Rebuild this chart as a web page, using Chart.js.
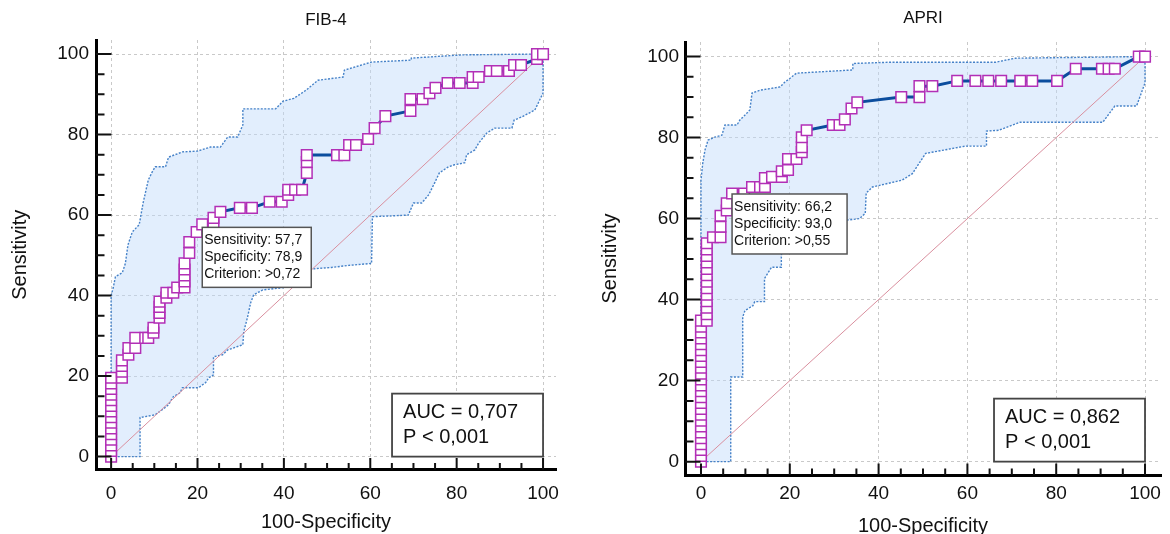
<!DOCTYPE html>
<html><head><meta charset="utf-8">
<script src="https://cdn.jsdelivr.net/npm/chart.js@4.4.1/dist/chart.umd.min.js"></script>
<style>
html,body{margin:0;padding:0;background:#fff;overflow:hidden}
#wrap{position:relative;width:1170px;height:534px;background:#fff}
canvas{position:absolute;top:0}
</style></head>
<body><div id="wrap">
<canvas id="c1" width="585" height="534" style="left:0"></canvas>
<canvas id="c2" width="585" height="534" style="left:585px"></canvas>
</div>
<script>
const FONT = "'Liberation Sans', Arial, Helvetica, sans-serif";

// ---- axes ----
const axisTicks = [0,5,10,15,20,25,30,35,40,45,50,55,60,65,70,75,80,85,90,95,100];
const labeledTicks = [0,20,40,60,80,100];
const xAxisTitle = '100-Specificity';
const yAxisTitle = 'Sensitivity';
const diagonalX = [0,100];
const diagonalY = [0,100];

// ---- FIB-4 ----
const fibTitle = 'FIB-4';
const fibRocX = [0,0,0,0,0,0,0,0,0,0,0,0,0,0,0,
  2.5,2.5,2.5,2.5,4.0,4.0,5.6,5.6,7.9,8.6,9.8,9.8,11.2,11.2,11.2,11.2,12.8,12.8,14.4,15.3,17.0,17.0,17.0,17.0,17.0,
  18.1,18.1,19.8,21.1,23.7,23.7,25.3,29.8,32.6,36.7,39.5,41.0,41.0,42.6,44.2,45.3,45.3,45.3,52.3,54.0,55.1,56.7,
  59.5,61.0,63.5,69.3,69.3,72.1,73.7,75.1,77.9,80.7,83.7,83.7,85.1,87.7,89.3,92.1,93.3,94.9,98.6,98.6,100];
const fibRocY = [0,1.4,2.8,4.2,5.6,7.0,8.4,9.8,11.2,12.6,14.0,15.4,16.8,18.2,19.6,
  19.6,21.1,22.5,23.9,25.3,27.0,27.0,29.5,29.5,29.5,30.8,32.0,34.5,35.7,37.2,38.5,39.5,40.7,40.7,42.0,42.0,43.5,45.0,46.5,48.0,
  50.6,53.3,55.8,57.7,57.7,59.3,60.8,61.8,61.8,63.3,63.3,65.0,66.3,66.3,66.3,70.5,73.2,74.9,74.9,74.9,77.4,77.4,
  78.9,81.6,84.6,85.9,88.8,88.8,90.3,91.6,92.8,92.8,92.8,94.3,94.3,95.8,95.8,95.8,97.3,97.3,98.8,100,100];
const fibUpperX = [0,0,0.5,1.0,2.6,3.3,3.9,4.9,6.5,7.4,8.6,9.5,10.2,12.6,13.3,16.5,20.0,23.0,25.3,27.0,29.3,30.5,30.5,
  38.1,39.8,42.3,45.1,47.9,53.7,54.0,60.2,69.5,69.5,81.2,98.0,100];
const fibUpperY = [0,40,42,44.7,45.7,48,52.6,55.8,57.6,63,68.7,70.7,72,72,74.4,75.7,75.9,76.9,76.9,79.4,79.4,82.4,86.4,
  86.4,88.3,89,91,93.5,94.3,96,98,98.5,99,99.8,100,100];
const fibLowerX = [0,6.7,6.7,10.2,11.9,13.3,14.4,16.0,16.5,20.2,21.9,22.6,23.7,23.7,25.8,27.0,30.5,30.7,31.6,32.3,33.0,
  35.1,40.0,44.0,45.0,51.0,55.0,60.3,60.5,68.8,70.0,71.9,73.5,74.9,76.0,78.1,79.5,81.9,82.3,84.2,85.1,87.0,88.8,92.8,
  93.3,95.1,98.1,99.0,100,100,100];
const fibLowerY = [0,0,9.7,10.4,11.7,12.9,14.9,15.9,17.1,17.1,18.4,19.6,20.3,24.8,25.3,26.5,27.8,31,34.7,38.2,40.2,
  41.4,42,45,46.5,47,47.5,48,59.6,60,63,63,65,68,70.5,72,72.5,73,75,76.2,77.9,80.4,81.6,81.6,
  83.6,84.4,86.1,88.1,90.3,95,100];
const fibCriterionPoint = [21.1, 57.7];
const fibCriterionText = ['Sensitivity: 57,7', 'Specificity: 78,9', 'Criterion: >0,72'];
const fibAucText = ['AUC = 0,707', 'P < 0,001'];

// ---- APRI ----
const apriTitle = 'APRI';
const apriRocX = [0,0,0,0,0,0,0,0,0,0,0,0,0,0,0,0,0,0,0,0,0,0,0,0,0,
  1.3,1.3,1.3,1.3,1.3,1.3,1.3,1.3,1.3,1.3,1.3,1.3,1.3,
  2.7,4.4,4.4,4.4,5.8,5.8,7.0,9.7,11.5,13.3,14.4,14.4,16.0,18.2,18.2,19.6,19.6,21.5,22.7,22.7,22.7,23.8,
  29.7,31.2,32.4,33.9,35.2,45.1,49.2,49.2,52.1,57.7,61.8,64.7,67.6,71.9,74.6,80.2,84.4,90.3,91.8,93.2,98.6,100];
const apriRocY = [0,1.4,2.9,4.3,5.8,7.2,8.7,10.1,11.6,13.0,14.5,15.9,17.4,18.8,20.3,21.7,23.2,24.6,26.1,27.5,29.0,30.4,31.9,33.3,34.8,
  34.8,36.4,38.0,39.6,41.2,42.8,44.4,46.0,47.6,49.2,50.8,52.4,53.9,
  55.4,55.4,58.0,60.7,62.0,63.8,66.2,66.2,67.8,67.8,67.8,70.0,70.3,70.3,71.7,72.0,74.7,74.7,76.4,77.6,80.1,81.8,
  83.1,83.1,84.5,87.2,88.7,90.0,90.0,92.7,92.7,94,94,94,94,94,94,94,97,97,97,97,100,100];
const apriUpperX = [0,0,0.4,0.9,1.6,3.1,4.7,5.4,8.1,8.8,9.5,11.0,11.5,13.3,17.8,18.9,20.0,21.5,34.2,34.2,42.4,66.3,70.8,99.0,100];
const apriUpperY = [0,69.5,73.7,76.9,79.4,80.1,80.6,83.1,83.1,84.4,85.1,86.8,91,91.7,92.5,93.7,94.6,95.9,96.7,98.3,98.6,98.6,99.6,100,100];
const apriLowerX = [0,6.7,6.7,9.4,9.4,9.9,11.7,12.1,14.3,14.3,15.9,18.1,18.1,18.4,19.0,33.5,35.7,37.0,37.2,38.6,45.3,47.6,
  50.6,59.6,64.3,64.3,67.0,71.9,90.5,93.2,98.1,100,100];
const apriLowerY = [0,0,20.9,20.9,35.7,37.3,38.5,39.5,39.5,45.2,48,48,50.5,57,58,59.7,60,61.3,66.3,67.8,69.5,71.1,
  76.1,77.9,77.9,81.6,81.8,83.8,83.8,87.8,87.8,93.5,100];
const apriCriterionPoint = [7.0, 66.2];
const apriCriterionText = ['Sensitivity: 66,2', 'Specificity: 93,0', 'Criterion: >0,55'];
const apriAucText = ['AUC = 0,862', 'P < 0,001'];

// ---- helpers ----
const pts = (xs, ys) => xs.map((x, i) => ({x: x, y: ys[i]}));
const bandShape = (ux, uy, lx, ly) => pts(ux, uy).concat(pts(lx, ly).reverse());

function buildChart(id, d, L) {
  const notes = {
    id: 'rocNotes',
    afterDatasetsDraw(chart) {
      const {ctx, scales: {x, y}} = chart;
      ctx.save();
      const bx = x.getPixelForValue(d.crit[0]) + L.critDX;
      const by = y.getPixelForValue(d.crit[1]) + L.critDY;
      const bw = L.critW, bh = 60;
      ctx.fillStyle = '#fff';
      ctx.fillRect(bx, by, bw, bh);
      ctx.strokeStyle = '#555';
      ctx.lineWidth = 1.5;
      ctx.strokeRect(bx, by, bw, bh);
      ctx.fillStyle = '#111';
      ctx.font = '14px ' + FONT;
      ctx.textAlign = 'left';
      ctx.textBaseline = 'middle';
      d.critText.forEach((t, i) => ctx.fillText(t, bx + 2, by + 13 + i * 17));
      const ax = x.getPixelForValue(100), ay = y.getPixelForValue(0);
      const aw = 151, ah = 63;
      ctx.fillStyle = '#fff';
      ctx.fillRect(ax - aw, ay - ah, aw, ah);
      ctx.strokeStyle = '#444';
      ctx.lineWidth = 1.8;
      ctx.strokeRect(ax - aw, ay - ah, aw, ah);
      ctx.fillStyle = '#111';
      ctx.font = '20px ' + FONT;
      d.aucText.forEach((t, i) => ctx.fillText(t, ax - aw + 11, ay - ah + 19 + i * 25));
      ctx.restore();
    },
    afterDraw(chart) {
      const {ctx, scales: {x, y}, chartArea: a} = chart;
      ctx.save();
      ctx.strokeStyle = '#111';
      ctx.lineWidth = 2;
      ctx.beginPath();
      axisTicks.forEach(v => {
        const px = x.getPixelForValue(v);
        const len = labeledTicks.includes(v) ? 10 : 5;
        ctx.moveTo(px, a.bottom);
        ctx.lineTo(px, a.bottom - 1.5 - len);
        const py = y.getPixelForValue(v);
        const ly = labeledTicks.includes(v) ? 14 : 7;
        ctx.moveTo(a.left, py);
        ctx.lineTo(a.left + 1.5 + ly, py);
      });
      ctx.stroke();
      ctx.restore();
    }
  };

  const gridColor = c => (c.tick && labeledTicks.includes(c.tick.value)) ? '#c9c9c9' : 'rgba(0,0,0,0)';
  const tickLabel = v => labeledTicks.includes(v) ? String(v) : '';

  return new Chart(document.getElementById(id), {
    type: 'line',
    data: {
      datasets: [
        {label: 'ROC', data: pts(d.rocX, d.rocY), borderColor: '#0b4d9e', borderWidth: 3,
         pointStyle: 'rect', pointRadius: 7.5, pointBackgroundColor: '#fff', pointBorderColor: '#b22fb6',
         pointBorderWidth: 1.5, fill: false, tension: 0, order: 0},
        {label: 'diag', data: pts(diagonalX, diagonalY), borderColor: '#d98f9e', borderWidth: 1,
         pointRadius: 0, fill: false, tension: 0, order: 1},
        {label: 'CI', data: bandShape(d.upX, d.upY, d.loX, d.loY), borderColor: '#4682c8', borderWidth: 1.4,
         borderDash: [2, 1.5], backgroundColor: 'rgba(190,218,250,0.45)', fill: 'shape',
         pointRadius: 0, tension: 0, order: 2}
      ]
    },
    options: {
      responsive: false,
      animation: false,
      events: [],
      layout: {padding: {left: 0, right: L.padRight, top: 0, bottom: 0}},
      plugins: {
        legend: {display: false},
        tooltip: {enabled: false},
        title: {display: true, text: d.title, fullSize: false, color: '#111',
                font: {family: FONT, size: 17, weight: 'normal'},
                padding: {top: L.titleTop, bottom: L.titleBot}}
      },
      scales: {
        x: {
          type: 'linear', min: L.xMin, max: L.xMax,
          afterBuildTicks: s => { s.ticks = axisTicks.map(v => ({value: v})); },
          afterFit: s => { s.height = L.xH; },
          ticks: {autoSkip: false, maxRotation: 0, padding: L.xPad, color: '#111',
                  font: {family: FONT, size: 19}, callback: tickLabel},
          grid: {drawTicks: false, color: gridColor, lineWidth: 1},
          border: {display: true, color: '#000', width: 3, dash: [3, 3]},
          title: {display: true, text: xAxisTitle, color: '#111', font: {family: FONT, size: 20},
                  padding: {top: 0, bottom: L.xTitlePB}}
        },
        y: {
          type: 'linear', min: L.yMin, max: L.yMax,
          afterBuildTicks: s => { s.ticks = axisTicks.map(v => ({value: v})); },
          afterFit: s => { s.width = L.yW; },
          ticks: {autoSkip: false, padding: L.yPad, color: '#111',
                  font: {family: FONT, size: 19}, callback: tickLabel},
          grid: {drawTicks: false, color: gridColor, lineWidth: 1},
          border: {display: true, color: '#000', width: 3, dash: [3, 3]},
          title: {display: true, text: yAxisTitle, color: '#111', font: {family: FONT, size: 20},
                  padding: {top: L.yTitlePT, bottom: 0}}
        }
      }
    },
    plugins: [notes]
  });
}

buildChart('c1', {
  title: fibTitle, rocX: fibRocX, rocY: fibRocY,
  upX: fibUpperX, upY: fibUpperY, loX: fibLowerX, loY: fibLowerY,
  crit: fibCriterionPoint, critText: fibCriterionText, aucText: fibAucText
}, {padRight: 29, yW: 96, xH: 64.5, xPad: 13.1, yPad: 7, yTitlePT: 8, xTitlePB: 0,
    titleTop: 9.8, titleBot: 9.8, xMin: -3.5, xMax: 103, yMin: -3.2, yMax: 103.5,
    critDX: 0, critDY: 3, critW: 109});

buildChart('c2', {
  title: apriTitle, rocX: apriRocX, rocY: apriRocY,
  upX: apriUpperX, upY: apriUpperY, loX: apriLowerX, loY: apriLowerY,
  crit: apriCriterionPoint, critText: apriCriterionText, aucText: apriAucText
}, {padRight: 8, yW: 100, xH: 59, xPad: 7.6, yPad: 6, yTitlePT: 13, xTitlePB: -4.6,
    titleTop: 7.8, titleBot: 13.8, xMin: -3.6, xMax: 103.6, yMin: -3.3, yMax: 103.6,
    critDX: 0, critDY: 0.5, critW: 115});
</script>
</body></html>
